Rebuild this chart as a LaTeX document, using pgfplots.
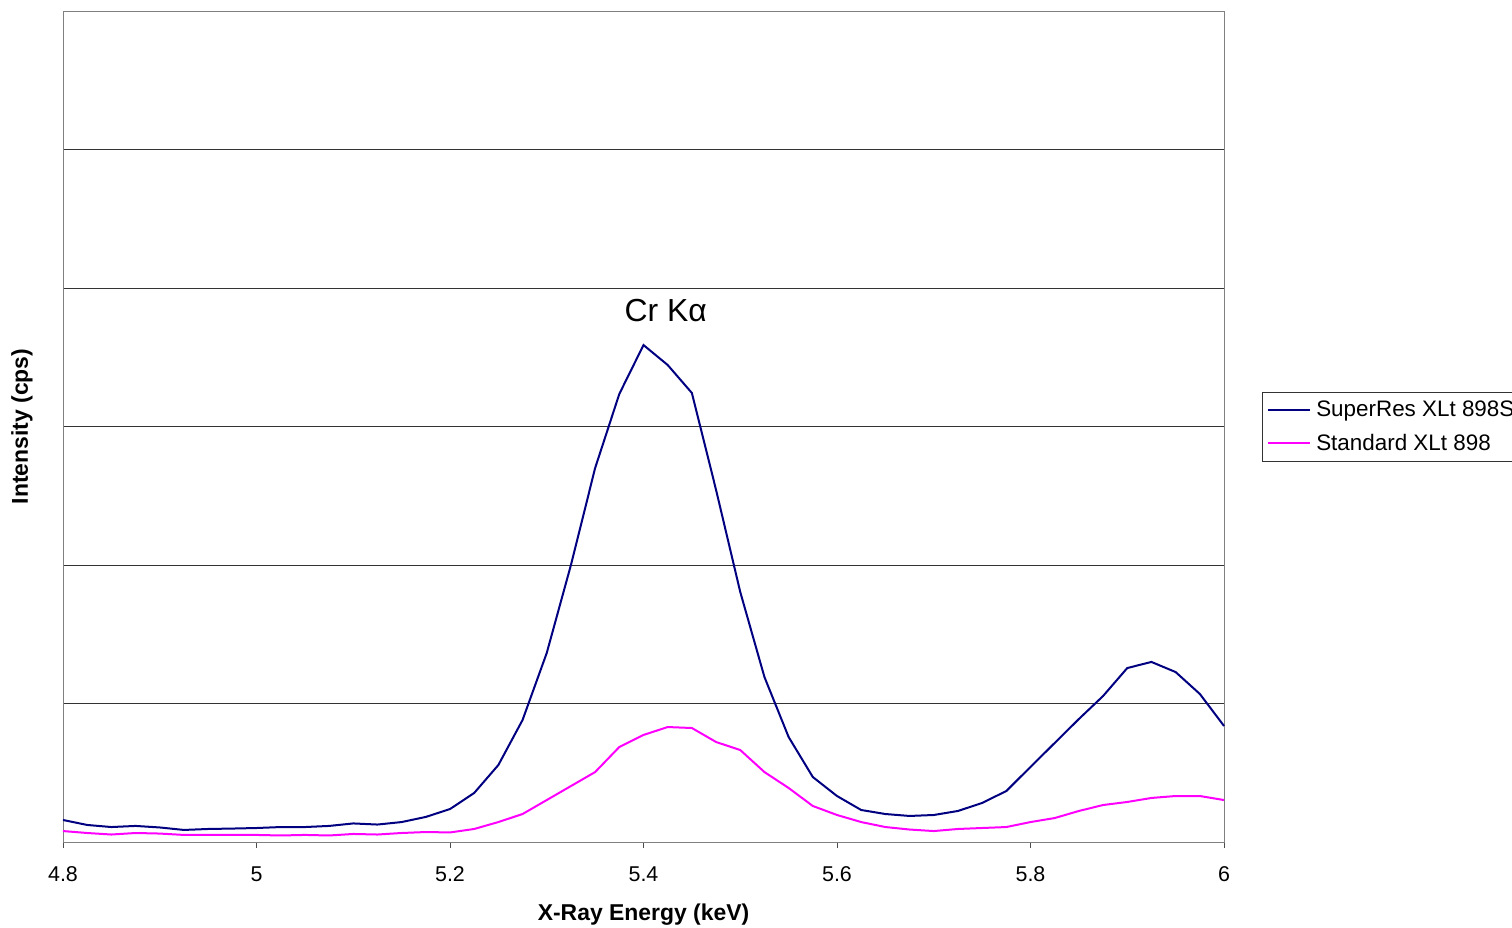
\documentclass[border=0pt]{standalone}
\usepackage{pgfplots}
\pgfplotsset{compat=1.18}
\usepackage{fontspec}
\setmainfont{Liberation Sans}
\definecolor{navyb}{HTML}{000080}
\definecolor{magp}{HTML}{FF00FF}
\begin{document}
\begin{tikzpicture}[x=1bp,y=1bp]
\path[use as bounding box, clip] (0,0) rectangle (1512,927);
\begin{axis}[
  at={(63bp,85bp)}, anchor=south west,
  scale only axis, width=1161bp, height=831bp,
  xmin=4.8, xmax=6, ymin=0, ymax=6,
  xtick={4.8,5,5.2,5.4,5.6,5.8,6},
  xticklabels={4.8,5,5.2,5.4,5.6,5.8,6},
  ytick={1,2,3,4,5}, yticklabels={},
  ymajorgrids, major grid style={black!80, line width=0.6bp},
  major y tick style={draw=none},
  major x tick style={black!70, line width=0.8bp},
  xtick pos=bottom, tick align=outside, major tick length=6bp,
  axis line style={draw=black!50, line width=0.8bp},
  xticklabel style={font=\fontsize{21.5}{24}\selectfont, yshift=-15bp},
  xlabel={\textbf{X-Ray Energy (keV)}},
  ylabel={\textbf{Intensity (cps)}},
  label style={font=\fontsize{23}{26}\selectfont},
  xlabel style={at={(axis description cs:0.5,0)}, anchor=center, yshift=-73bp},
  ylabel style={at={(axis description cs:0,0.5)}, anchor=center, yshift=41bp},
  legend style={at={(axis description cs:1.0327,0.5415)}, anchor=north west, draw=black!80, line width=0.6bp,
    font=\fontsize{22.5}{26}\selectfont, nodes={font=\fontsize{22.5}{26}\selectfont},
    inner xsep=5bp, inner ysep=7bp, row sep=12bp, cells={anchor=west}},
  legend cell align=left,
  legend image code/.code={\draw[#1, line width=2bp] (0bp,0bp) -- (42bp,0bp); \path (45bp,0bp);},
  clip=false,
]
\addplot[navyb, line width=2bp] coordinates {
(4.8,0.159)(4.825,0.123)(4.85,0.108)(4.875,0.116)(4.9,0.105)(4.925,0.087)(4.95,0.094)(4.975,0.097)
(5.0,0.101)(5.025,0.108)(5.05,0.108)(5.075,0.116)(5.1,0.134)(5.125,0.126)(5.15,0.144)(5.175,0.181)
(5.2,0.238)(5.225,0.354)(5.25,0.556)(5.275,0.881)(5.3,1.365)(5.325,2.0)(5.35,2.70)(5.375,3.235)
(5.4,3.588)(5.425,3.444)(5.45,3.242)(5.475,2.542)(5.5,1.805)(5.525,1.191)(5.55,0.758)(5.575,0.469)
(5.6,0.332)(5.625,0.231)(5.65,0.202)(5.675,0.188)(5.7,0.195)(5.725,0.224)(5.75,0.282)(5.775,0.368)
(5.8,0.542)(5.825,0.715)(5.85,0.888)(5.875,1.054)(5.9,1.256)(5.925,1.30)(5.95,1.227)(5.975,1.069)
(6.0,0.838)};
\addlegendentry{SuperRes XLt 898S}
\addplot[magp, line width=2bp] coordinates {
(4.8,0.079)(4.825,0.065)(4.85,0.054)(4.875,0.065)(4.9,0.061)(4.925,0.051)(4.95,0.051)(4.975,0.051)
(5.0,0.051)(5.025,0.047)(5.05,0.051)(5.075,0.047)(5.1,0.058)(5.125,0.054)(5.15,0.065)(5.175,0.072)
(5.2,0.069)(5.225,0.094)(5.25,0.144)(5.275,0.202)(5.3,0.303)(5.325,0.404)(5.35,0.505)(5.375,0.686)
(5.4,0.773)(5.425,0.830)(5.45,0.823)(5.475,0.722)(5.5,0.664)(5.525,0.505)(5.55,0.390)(5.575,0.260)
(5.6,0.195)(5.625,0.144)(5.65,0.108)(5.675,0.090)(5.7,0.079)(5.725,0.094)(5.75,0.101)(5.775,0.108)
(5.8,0.144)(5.825,0.173)(5.85,0.224)(5.875,0.267)(5.9,0.289)(5.925,0.318)(5.95,0.332)(5.975,0.332)
(6.0,0.303)};
\addlegendentry{Standard XLt 898}
\node[font=\fontsize{32}{36}\selectfont] at (axis cs:5.423,3.834) {Cr Kα};
\end{axis}
\end{tikzpicture}
\end{document}
